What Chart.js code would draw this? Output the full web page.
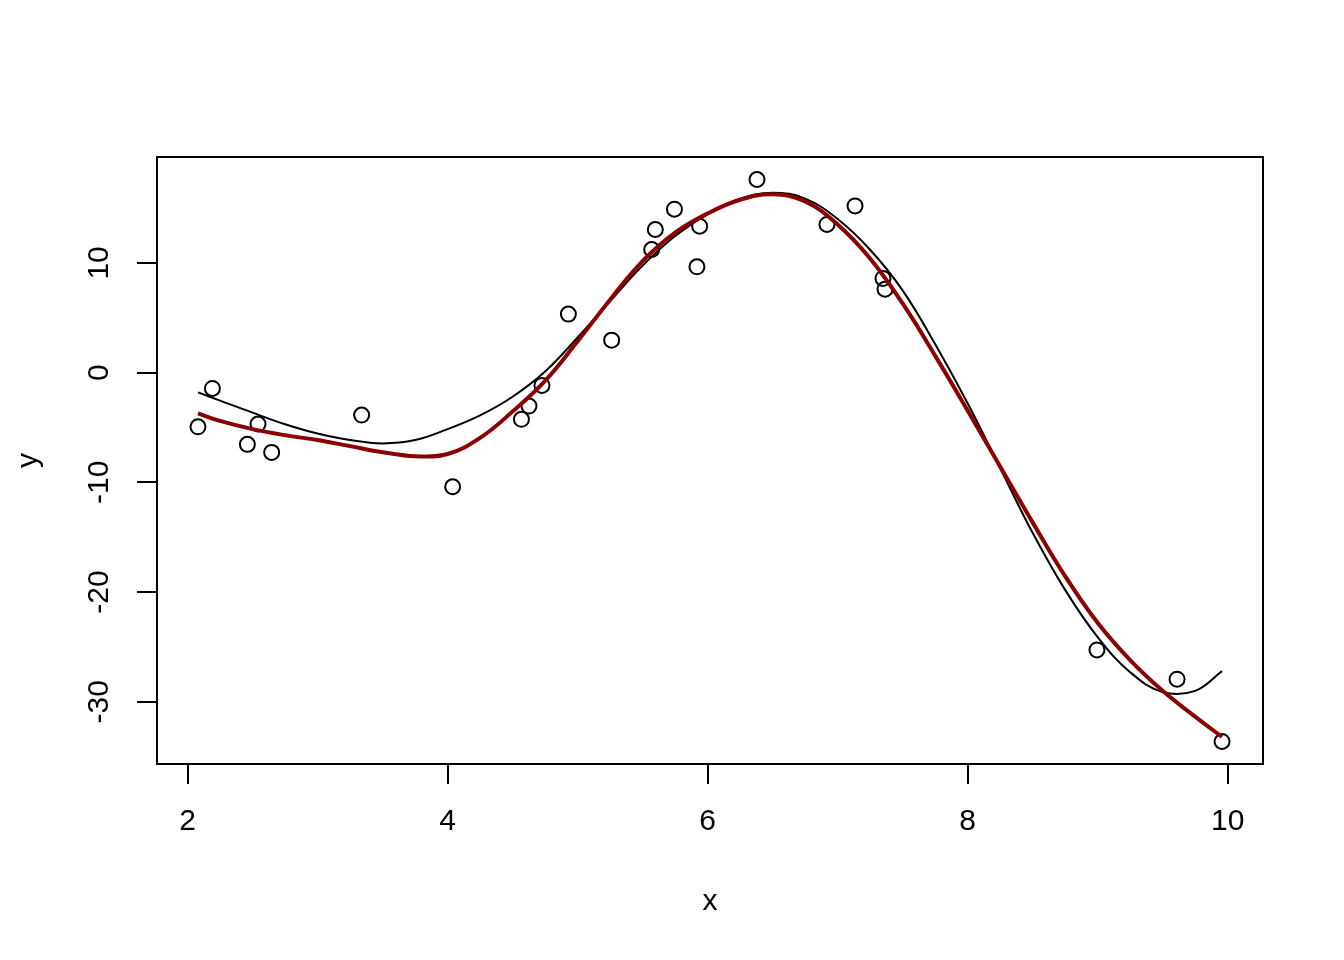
<!DOCTYPE html>
<html><head><meta charset="utf-8">
<script src="https://cdn.jsdelivr.net/npm/chart.js@4.4.1/dist/chart.umd.min.js"></script>
<style>html,body{margin:0;padding:0;background:#fff;}canvas{display:block}</style>
</head><body>
<canvas id="c" width="1344" height="960"></canvas>
<script>
// observed points
const pointX = [2.080, 2.191, 2.460, 2.542, 2.647, 3.339, 4.039, 4.568, 4.626, 4.726, 4.929, 5.262, 5.570, 5.598, 5.745, 5.918, 5.939, 6.380, 6.918, 7.134, 7.349, 7.365, 8.995, 9.611, 9.957];
const pointY = [-4.94, -1.44, -6.54, -4.69, -7.27, -3.87, -10.40, -4.26, -3.05, -1.17, 5.33, 2.96, 11.22, 13.04, 14.89, 9.64, 13.34, 17.60, 13.50, 15.19, 8.58, 7.60, -25.27, -27.94, -33.62];

const curveX = [2.08, 2.25, 2.5, 2.75, 3.0, 3.25, 3.5, 3.75, 4.0, 4.25, 4.5, 4.75, 5.0, 5.25, 5.5, 5.75, 6.0, 6.25, 6.5, 6.75, 7.0, 7.25, 7.5, 7.75, 8.0, 8.25, 8.5, 8.75, 9.0, 9.25, 9.5, 9.75, 9.957];

// thin black fitted curve
const blackY = [-1.80, -2.55, -3.65, -4.70, -5.55, -6.15, -6.45, -6.15, -5.15, -3.90, -2.20, 0.10, 3.20, 6.50, 9.75, 12.45, 14.45, 15.85, 16.40, 15.85, 14.00, 11.20, 7.50, 2.60, -2.80, -8.70, -14.60, -19.80, -24.10, -27.30, -29.10, -29.00, -27.20];

// thick dark red fitted curve
const redY = [-3.72, -4.40, -5.15, -5.70, -6.15, -6.70, -7.25, -7.62, -7.42, -5.95, -3.55, -0.75, 2.85, 6.65, 10.15, 12.75, 14.50, 15.75, 16.25, 15.60, 13.50, 10.40, 6.30, 1.55, -3.45, -8.55, -13.65, -18.55, -22.80, -26.20, -29.00, -31.35, -33.20];

const xTicks = [2, 4, 6, 8, 10];
const yTicks = [-30, -20, -10, 0, 10];
const xTitle = 'x';
const yTitle = 'y';

const FONT = "'Liberation Sans', Arial, Helvetica, sans-serif";
function extend(arr) {
  const lo = Math.min(...arr), hi = Math.max(...arr), d = (hi - lo) * 0.04;
  return [lo - d, hi + d];
}
const [xMin, xMax] = extend(pointX);
const [yMin, yMax] = extend(pointY);
const toXY = (xs, ys) => xs.map((x, i) => ({x: x, y: ys[i]}));

const framePlugin = {
  id: 'frame',
  afterDraw(chart) {
    const {ctx, chartArea: a} = chart;
    ctx.save();
    ctx.strokeStyle = '#000';
    ctx.lineWidth = 2;
    ctx.strokeRect(a.left, a.top, a.right - a.left, a.bottom - a.top);
    // rotated y tick labels
    const ys = chart.scales.y;
    ctx.fillStyle = '#000';
    ctx.font = '30px ' + FONT;
    ctx.textAlign = 'center';
    ctx.textBaseline = 'middle';
    yTicks.forEach(v => {
      const py = ys.getPixelForValue(v);
      ctx.save();
      ctx.translate(100, py);
      ctx.rotate(-Math.PI / 2);
      ctx.fillText(String(v), 0, 0);
      ctx.restore();
    });
    ctx.restore();
  }
};

new Chart(document.getElementById('c'), {
  type: 'scatter',
  data: {
    datasets: [
      {
        data: toXY(curveX, redY), showLine: true, borderColor: '#8B0000', borderWidth: 4,
        pointRadius: 0, tension: 0.4, fill: false, order: 0
      },
      {
        data: toXY(curveX, blackY), showLine: true, borderColor: '#000000', borderWidth: 2,
        pointRadius: 0, tension: 0.4, fill: false, order: 1
      },
      {
        data: toXY(pointX, pointY), showLine: false, borderColor: '#000000', borderWidth: 2,
        backgroundColor: 'rgba(0,0,0,0)', pointRadius: 7.5, pointStyle: 'circle', order: 2
      }
    ]
  },
  options: {
    responsive: false,
    animation: false,
    devicePixelRatio: 1,
    layout: {padding: {top: 157, right: 81, left: 0, bottom: 0}},
    plugins: {legend: {display: false}, tooltip: {enabled: false}},
    scales: {
      x: {
        type: 'linear', position: 'bottom', min: xMin, max: xMax,
        afterFit: s => { s.height = 196; },
        afterBuildTicks: s => { s.ticks = xTicks.map(v => ({value: v})); },
        grid: {display: true, drawOnChartArea: false, drawTicks: true, tickLength: 20, tickWidth: 2, tickColor: '#000', color: '#000', lineWidth: 2},
        border: {display: false},
        ticks: {color: '#000', padding: 20, maxRotation: 0, minRotation: 0, autoSkip: false,
          font: {family: FONT, size: 30, lineHeight: 1.2}, callback: v => String(v)},
        title: {display: true, text: xTitle, color: '#000', font: {family: FONT, size: 30, lineHeight: 1.2},
          padding: {top: 0, bottom: 40}}
      },
      y: {
        type: 'linear', position: 'left', min: yMin, max: yMax,
        afterFit: s => { s.width = 157; },
        afterBuildTicks: s => { s.ticks = yTicks.map(v => ({value: v})); },
        grid: {display: true, drawOnChartArea: false, drawTicks: true, tickLength: 20, tickWidth: 2, tickColor: '#000', color: '#000', lineWidth: 2},
        border: {display: false},
        ticks: {display: false},
        title: {display: true, text: yTitle, color: '#000', font: {family: FONT, size: 30, lineHeight: 1.2},
          padding: {top: 11, bottom: 0}}
      }
    }
  },
  plugins: [framePlugin]
});
</script>
</body></html>
